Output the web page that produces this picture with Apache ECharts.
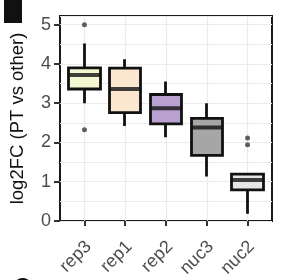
<!DOCTYPE html>
<html>
<head>
<meta charset="utf-8">
<script src="https://cdn.jsdelivr.net/npm/echarts@6.0.0/dist/echarts.min.js"></script>
<style>
  html, body { margin: 0; padding: 0; background: #fff; }
  #chart { width: 282px; height: 280px; }
</style>
</head>
<body>
<div id="chart"></div>
<script>
// categories, left to right
const categories = ['rep3', 'rep1', 'rep2', 'nuc3', 'nuc2'];
// box stats: [min, Q1, median, Q3, max]
const lowWhisker = [3.0, 2.42, 2.13, 1.13, 0.18];
const q1 = [3.36, 2.76, 2.47, 1.67, 0.79];
const medians = [3.72, 3.36, 2.87, 2.38, 1.04];
const q3 = [3.9, 3.89, 3.22, 2.61, 1.19];
const highWhisker = [4.52, 4.12, 3.55, 3.0, 1.2];
// outliers: [category index, value]
const outliers = [[0, 5.0], [0, 2.32], [4, 2.11], [4, 1.94]];
const fills = ['#f4f8d2', '#fbe6cf', '#b8a0cf', '#a6a6a6', '#e6e6e6'];
const yTicks = [0, 1, 2, 3, 4, 5];

const chart = echarts.init(document.getElementById('chart'));

// candlestick gives box + whiskers without end caps (like ggplot)
const boxData = categories.map((c, i) => ({
  value: [i + 1, q1[i], q3[i], lowWhisker[i], highWhisker[i]],
  itemStyle: { color: fills[i], color0: fills[i], borderColor: '#111', borderColor0: '#111' }
}));
const medianData = categories.map((c, i) => [i + 1, medians[i]]);
const outlierData = outliers.map(o => [o[0] + 1, o[1]]);

const option = {
  animation: false,
  grid: {
    left: 55, top: 16, width: 217, height: 211,
    show: true, borderColor: '#1a1a1a', borderWidth: 2, backgroundColor: 'transparent'
  },
  xAxis: {
    type: 'value', min: 0.4, max: 5.6,
    axisLine: { show: false },
    axisTick: { show: true, length: 5, customValues: [1, 2, 3, 4, 5], lineStyle: { color: '#333', width: 2 } },
    axisLabel: {
      customValues: [1.1, 2.1, 3.1, 4.1, 5.1],
      formatter: v => categories[Math.round(v - 0.1) - 1] || '',
      rotate: 45, margin: 23, color: '#4d4d4d', fontSize: 18, fontFamily: 'Liberation Sans'
    },
    splitLine: { show: true, lineStyle: { color: '#ebebeb', width: 1.2 } }
  },
  yAxis: [{
    type: 'value', min: 0, max: 5.22, interval: 0.5,
    axisLine: { show: false }, axisTick: { show: false }, axisLabel: { show: false },
    splitLine: { show: true, lineStyle: { color: '#ebebeb', width: 1.2 } },
    name: 'log2FC (PT vs other)', nameLocation: 'middle', nameGap: 33,
    nameTextStyle: { color: '#111', fontSize: 18.5, fontFamily: 'Liberation Sans' }
  }, {
    type: 'value', min: 0, max: 5.22, position: 'left',
    axisLine: { show: false },
    axisTick: { show: true, length: 6, customValues: yTicks, lineStyle: { color: '#333', width: 2 } },
    axisLabel: { customValues: yTicks, margin: 9, color: '#4d4d4d', fontSize: 18, fontFamily: 'Liberation Sans' },
    splitLine: { show: false }
  }],
  series: [{
    type: 'candlestick',
    barWidth: 32,
    itemStyle: { borderWidth: 2.8 },
    data: boxData,
    z: 3
  }, {
    type: 'scatter',
    symbol: 'rect', symbolSize: [32, 4],
    itemStyle: { color: '#111' },
    data: medianData,
    z: 4
  }, {
    type: 'scatter',
    symbol: 'circle', symbolSize: 5,
    itemStyle: { color: '#3a3a3a' },
    data: outlierData,
    z: 4
  }],
  graphic: [
    { type: 'rect', shape: { x: 4, y: 0, width: 18, height: 23 }, style: { fill: '#111' } },
    { type: 'text', left: 14, top: 276, style: { text: 'G', fontSize: 22, fontWeight: 'bold', fill: '#111', fontFamily: 'Liberation Sans' } }
  ]
};

chart.setOption(option);
</script>
</body>
</html>
